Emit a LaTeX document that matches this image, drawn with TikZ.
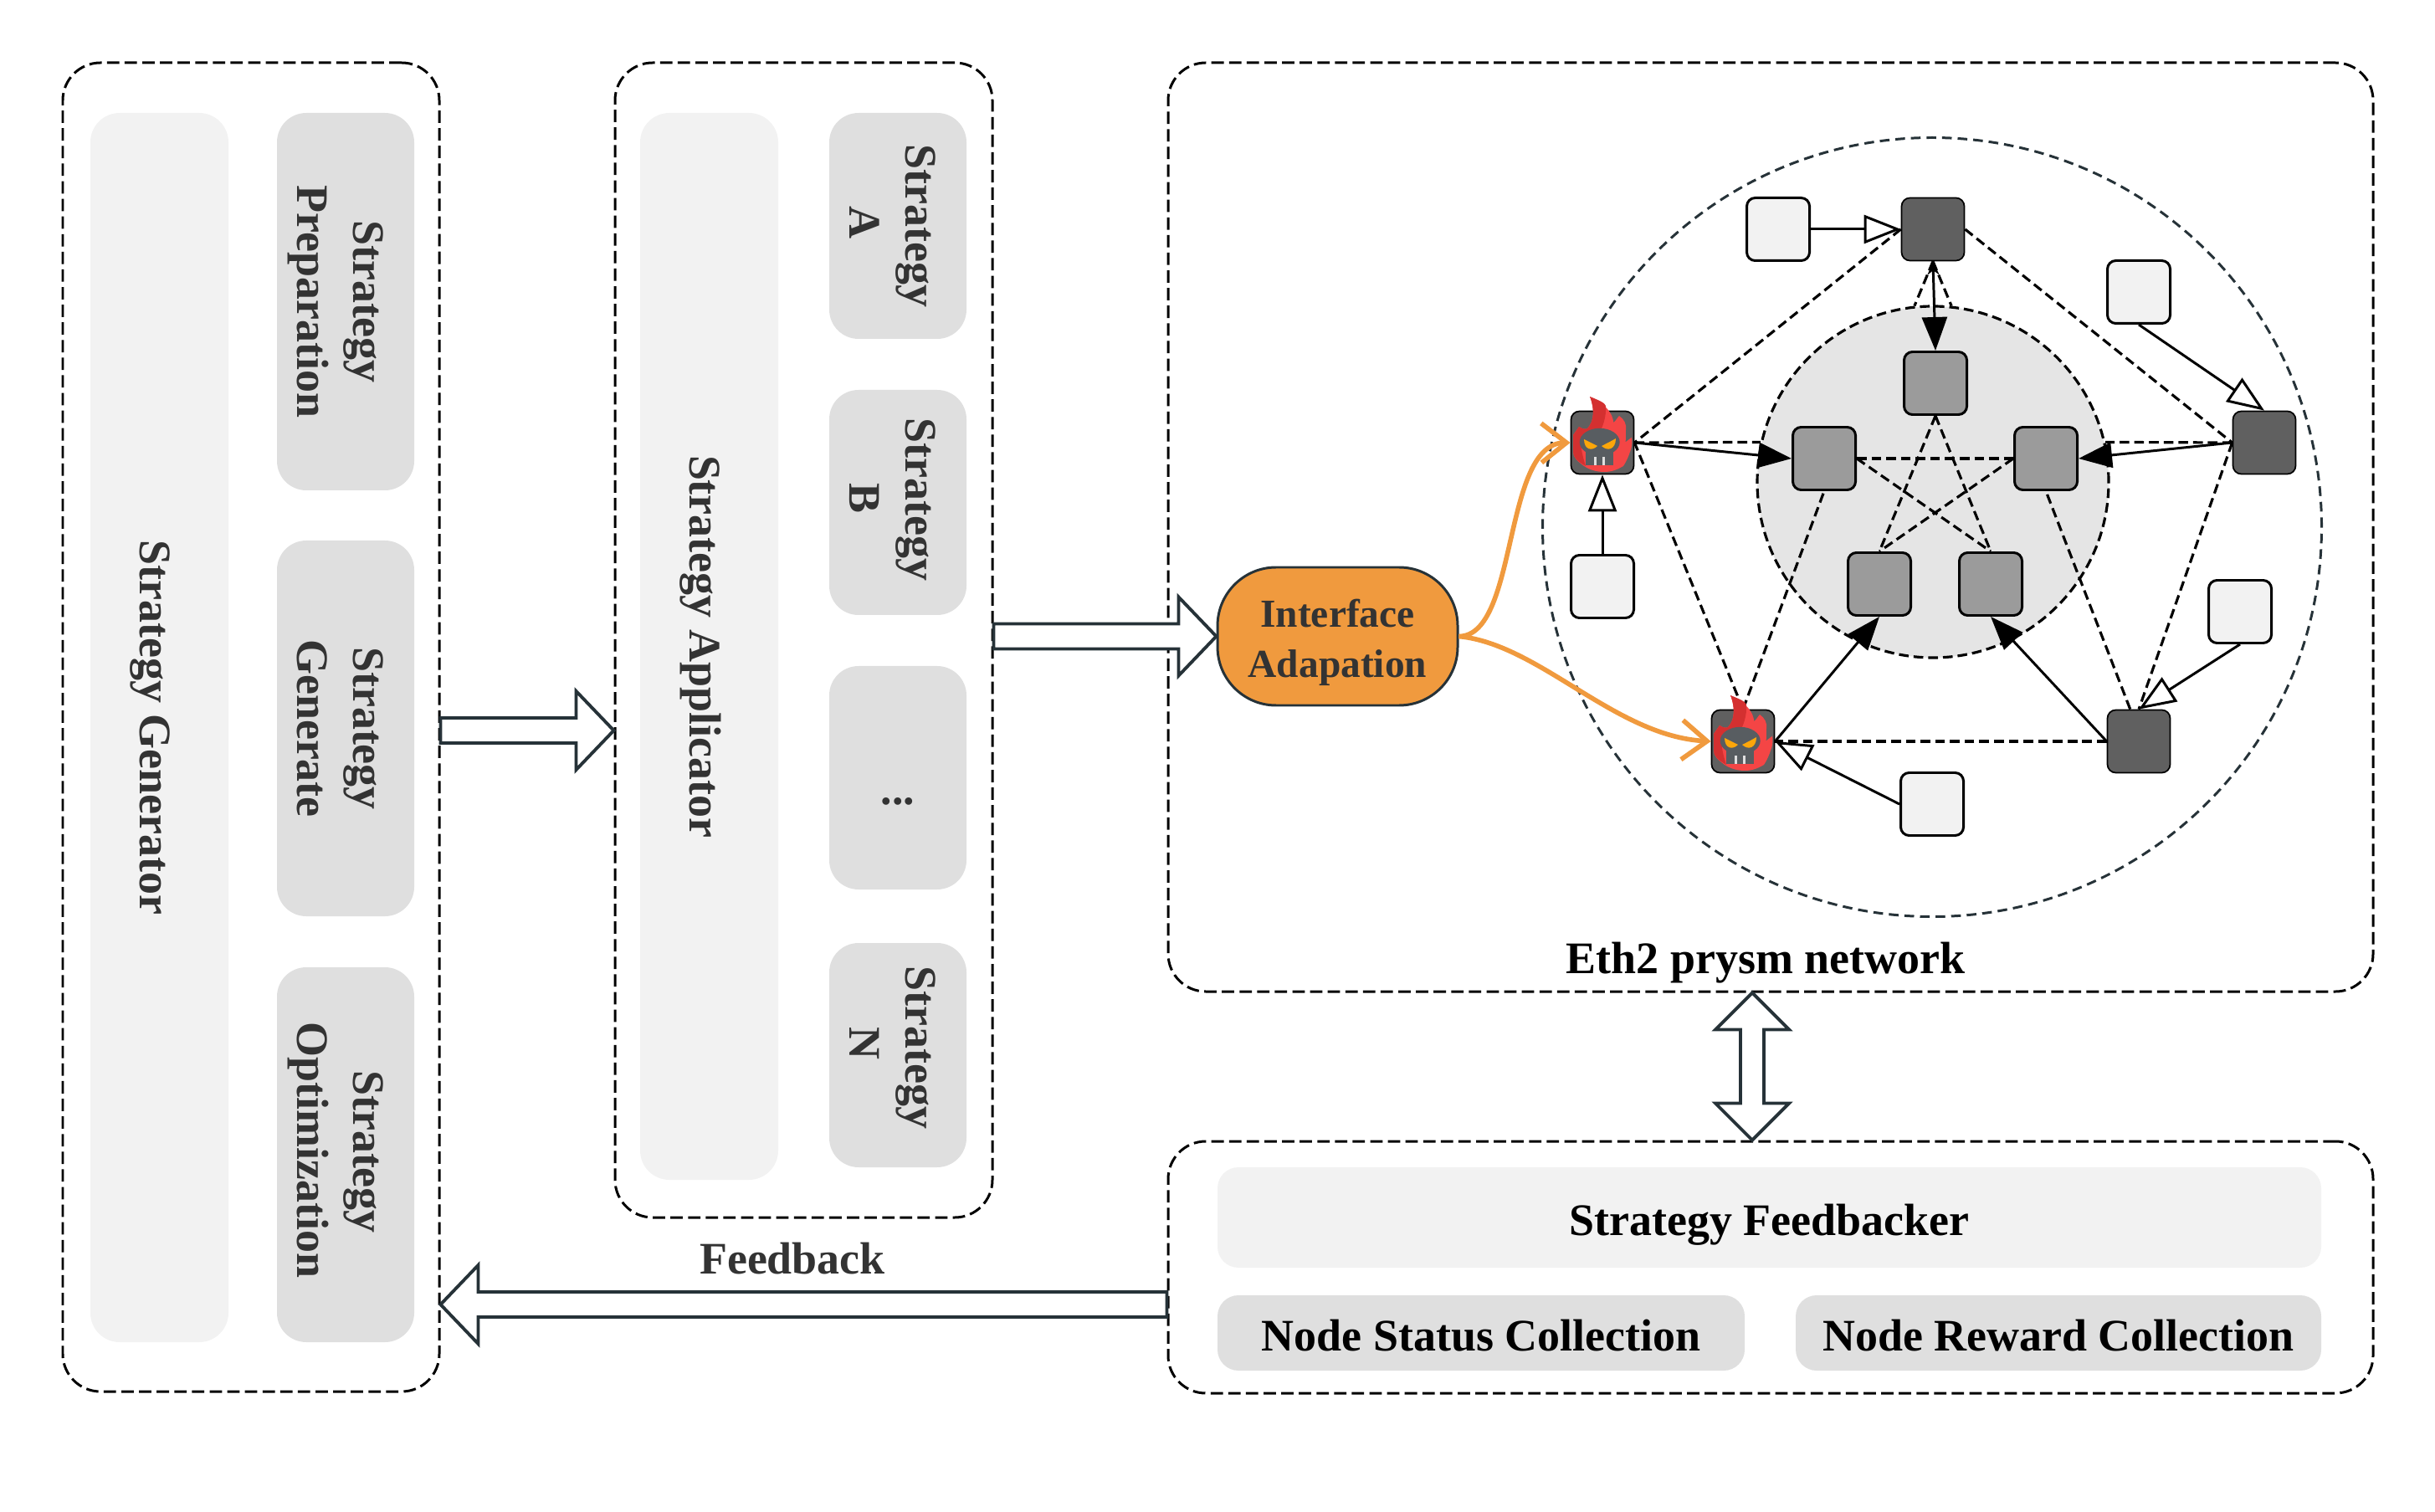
\documentclass[tikz,border=0pt]{standalone}
\usepackage{fontspec}
\setmainfont{Liberation Serif}
\usetikzlibrary{arrows.meta,calc,shapes.geometric}
\definecolor{linedark}{HTML}{263238}
\definecolor{barlight}{HTML}{F2F2F2}
\definecolor{boxgray}{HTML}{DFDFDF}
\definecolor{textdark}{HTML}{333333}
\definecolor{ifaceorange}{HTML}{F09A3E}
\definecolor{nodedark}{HTML}{606060}
\definecolor{nodemid}{HTML}{9B9B9B}
\definecolor{flamered}{HTML}{F44545}
\definecolor{flamedark}{HTML}{D43030}
\definecolor{skullgray}{HTML}{585D61}
\definecolor{eyeorange}{HTML}{FCA60A}
\tikzset{
  lbl/.style={font=\bfseries\fontsize{15.35}{19.2}\selectfont,align=center,text=textdark},
  textstrut/.style 2 args={inner ysep=0pt,execute at begin node={\rule{0pt}{#1}},execute at end node={\rule[-#2]{0pt}{#2}}},
  groupbox/.style={draw,line width=.85pt,dash pattern=on 4.2pt off 1.8pt,rounded corners=.45cm},
  sidebar/.style={lbl,textstrut={17.2pt}{4pt},fill=barlight,rounded corners=.35cm,rotate=-90,minimum height=1.65cm},
  stepbox/.style={lbl,textstrut={36.8pt}{4pt},fill=boxgray,rounded corners=.35cm,rotate=-90,minimum height=1.64cm},
  wideblock/.style={lbl,textstrut={16.2pt}{4pt},text=black,rounded corners=.25cm},
  peer/.style={draw,rounded corners=.1cm,minimum size=.75cm,inner sep=0pt},
  outerpeer/.style={peer,fill=nodedark,line width=.5pt},
  innerpeer/.style={peer,fill=nodemid,line width=.85pt},
  clientpeer/.style={peer,fill=barlight,line width=.85pt},
  link/.style={line width=.9pt,dash pattern=on 3.3pt off 1.7pt},
  solidarrow/.style={line width=.85pt,-{Triangle[length=.4cm,width=.3cm]}},
  hollowarrow/.style={line width=.85pt,-{Triangle[open,fill=white,length=.44cm,width=.34cm]}},
  orangearrow/.style={ifaceorange,line width=1.6pt,-{Straight Barb[length=.3cm,width=.47cm]}},
  blockstroke/.style={draw=linedark,line width=1.1pt,fill=white,line join=miter},
  blockarrow/.style={blockstroke,to path={
    ($(\tikztostart)!.15cm!90:(\tikztotarget)$)
    -- ($(\tikztotarget)!.45cm!(\tikztostart)!.15cm!90:(\tikztotarget)$)
    -- ($(\tikztotarget)!.45cm!(\tikztostart)!.47cm!90:(\tikztotarget)$)
    -- (\tikztotarget)
    -- ($(\tikztotarget)!.45cm!(\tikztostart)!.47cm!-90:(\tikztotarget)$)
    -- ($(\tikztotarget)!.45cm!(\tikztostart)!.15cm!-90:(\tikztotarget)$)
    -- ($(\tikztostart)!.15cm!-90:(\tikztotarget)$) -- cycle}},
  twowayarrow/.style={blockstroke,to path={
    -- ($(\tikztostart)!.44cm!(\tikztotarget)!.44cm!90:(\tikztotarget)$)
    -- ($(\tikztostart)!.44cm!(\tikztotarget)!.14cm!90:(\tikztotarget)$)
    -- ($(\tikztotarget)!.44cm!(\tikztostart)!.14cm!-90:(\tikztostart)$)
    -- ($(\tikztotarget)!.44cm!(\tikztostart)!.44cm!-90:(\tikztostart)$)
    -- (\tikztotarget)
    -- ($(\tikztotarget)!.44cm!(\tikztostart)!.44cm!90:(\tikztostart)$)
    -- ($(\tikztotarget)!.44cm!(\tikztostart)!.14cm!90:(\tikztostart)$)
    -- ($(\tikztostart)!.44cm!(\tikztotarget)!.14cm!-90:(\tikztotarget)$)
    -- ($(\tikztostart)!.44cm!(\tikztotarget)!.44cm!-90:(\tikztotarget)$)
    -- cycle}},
  fireskull/.pic={
    \begin{scope}[x=.01cm,y=.01cm]
    \fill[flamered] (-15,55) .. controls (5,45) and (12,35) .. (13.3,24) .. controls (16,26) and (18,30) .. (20,32)
      .. controls (26,28) and (29,22) .. (28,15.7) -- (27.7,.7) -- (35,6.3) .. controls (36,-2) and (35,-6) .. (33,-11)
      .. controls (30,-20) and (27,-25) .. (25,-28) .. controls (15,-34) and (8,-35) .. (2,-35)
      .. controls (-8,-35) and (-16,-32) .. (-22,-28) .. controls (-30,-22) and (-35,-18) .. (-35,-11)
      -- (-35,9) -- (-28,19) .. controls (-24,16) and (-20,16) .. (-18,17) .. controls (-10,25) and (-9,40) .. cycle;
    \fill[flamedark] (-15,55) .. controls (-2,50) and (3,47) .. (4,44) .. controls (5,32) and (0,15) .. (-5,12)
      .. controls (-20,8) and (-27,2) .. (-25,-8) .. controls (-24,-15) and (-22,-22) .. (-20,-28)
      .. controls (-30,-22) and (-35,-18) .. (-35,-11)
      -- (-35,9) -- (-28,19) .. controls (-24,16) and (-20,16) .. (-18,17) .. controls (-10,25) and (-9,40) .. cycle;
    \fill[skullgray] (-3.3,.7) ellipse (24 and 16.5);
    \fill[skullgray] (-20,-8) rectangle (13,-27);
    \fill[eyeorange] (-22,4) .. controls (-22,-8) and (-13,-11) .. (-6,-4) .. controls (-12,-1) and (-18,2) .. cycle;
    \fill[eyeorange] (16,5) .. controls (16,-8) and (6,-11) .. (-1,-4) .. controls (5,-1) and (11,2) .. cycle;
    \fill[boxgray] (-10,-17) rectangle (-7,-27);
    \fill[boxgray] (0,-17) rectangle (3,-27);
    \end{scope}
  }
}
\begin{document}
\begin{tikzpicture}
\useasboundingbox (0,0) rectangle (29.1,18.06);
% left columns
\node[groupbox,minimum width=4.5cm,minimum height=15.88cm] (genbox) at (3,9.37) {};
\node[sidebar,minimum width=14.69cm] (genbar) at (1.905,9.365) {Strategy Generator};
\node[stepbox,minimum width=4.51cm] (prep) at (4.13,14.455) {Strategy\\Preparation};
\node[stepbox,minimum width=4.49cm] (generate) at (4.13,9.355) {Strategy\\Generate};
\node[stepbox,minimum width=4.48cm] (optim) at (4.13,4.26) {Strategy\hspace*{2pt}\\Optimization\hspace*{3pt}};
\node[groupbox,minimum width=4.51cm,minimum height=13.8cm] (appbox) at (9.605,10.41) {};
\node[sidebar,minimum width=12.75cm] (appbar) at (8.475,10.335) {Strategy Applicator};
\node[stepbox,minimum width=2.7cm] (stratA) at (10.73,15.36) {Strategy\\A\hspace*{2pt}};
\node[stepbox,minimum width=2.69cm] (stratB) at (10.73,12.055) {Strategy\hspace*{2pt}\\B\hspace*{3pt}};
\node[lbl,fill=boxgray,rounded corners=.35cm,minimum width=1.64cm,minimum height=2.67cm] (stratDots) at (10.73,8.765) {\raisebox{-9pt}[0pt][0pt]{...}};
\node[stepbox,minimum width=2.68cm] (stratN) at (10.73,5.45) {Strategy\hspace*{5pt}\\N\hspace*{8pt}};
% network
\node[groupbox,minimum width=14.4cm,minimum height=11.1cm] (netbox) at (21.16,11.76) {};
\node[lbl,text=black] (netlabel) at (21.1,6.55) {Eth2 prysm network};
\node[circle,draw=linedark,line width=.85pt,dash pattern=on 3.3pt off 2pt,minimum size=9.31cm] (outring) at (23.09,11.76) {};
\node[circle,draw,fill=black!10,line width=.9pt,dash pattern=on 3.3pt off 1.7pt,minimum size=4.2cm] (inring) at (23.1,12.3) {};
\node[lbl,font=\bfseries\fontsize{13.5}{17}\selectfont,textstrut={30.8pt}{3.2pt},draw=linedark,line width=.85pt,fill=ifaceorange,rounded corners=.7cm,minimum width=2.87cm,minimum height=1.65cm] (iface) at (15.985,10.455) {Interface\\Adapation};
\node[outerpeer] (otop) at (23.1,15.32) {};
\node[outerpeer] (oright) at (27.06,12.77) {};
\node[outerpeer] (obr) at (25.56,9.2) {};
\node[outerpeer] (obl) at (20.83,9.2) {};
\node[outerpeer] (oleft) at (19.15,12.77) {};
\node[innerpeer] (itop) at (23.13,13.48) {};
\node[innerpeer] (ileft) at (21.8,12.58) {};
\node[innerpeer] (iright) at (24.45,12.58) {};
\node[innerpeer] (ibl) at (22.46,11.08) {};
\node[innerpeer] (ibr) at (23.79,11.08) {};
\node[clientpeer] (ctop) at (21.25,15.32) {};
\node[clientpeer] (cright) at (25.56,14.57) {};
\node[clientpeer] (cleft) at (19.15,11.05) {};
\node[clientpeer] (cbr) at (26.77,10.75) {};
\node[clientpeer] (cbot) at (23.09,8.45) {};
% outer pentagon
\draw[link] (otop.west) -- (oleft.east);
\draw[link] (otop.east) -- (oright.west);
\draw[link] (oright.west) -- (obr.north);
\draw[link] (obr.west) -- (obl.east);
\draw[link] (obl.north) -- (oleft.east);
\draw[link] (oleft.east) -- (inring.167);
\draw[link] (oright.west) -- (inring.13);
\draw[link] (otop.south) -- (inring.96);
\draw[link] (otop.south) -- (inring.84);
\draw[link] (obl.north) -- (ileft.south);
\draw[link] (obr.105) -- (iright.south);
% inner star
\draw[link] (itop.south) -- (ibl.north);
\draw[link] (itop.south) -- (ibr.north);
\draw[link] (ileft.east) -- (iright.west);
\draw[link] (ileft.east) -- (ibr.north);
\draw[link] (iright.west) -- (ibl.north);
% peer arrows
\draw[solidarrow,{Stealth[length=.16cm,width=.14cm]}-{Triangle[length=.4cm,width=.3cm]}] (otop.south) -- (itop.north);
\draw[solidarrow] (oleft.east) -- (ileft.west);
\draw[solidarrow] (oright.west) -- (iright.east);
\draw[solidarrow] (obl.east) -- (ibl.south);
\draw[solidarrow] (obr.west) -- (ibr.south);
\draw[hollowarrow] (ctop.east) -- (otop.west);
\draw[hollowarrow] (cright.south) -- (oright.north);
\draw[hollowarrow] (cleft.north) -- (oleft.south);
\draw[hollowarrow] (cbr.south) -- (obr.north);
\draw[hollowarrow] (cbot.west) -- (obl.east);
\draw[orangearrow] (iface.east) .. controls (18.15,10.46) and (17.95,12.76) .. (oleft.west);
\draw[orangearrow] (iface.east) .. controls (18.4,10.36) and (19.3,9.26) .. (obl.west);
\pic at (oleft) {fireskull};
\pic at (obl) {fireskull};
% feedback part
\node[groupbox,minimum width=14.4cm,minimum height=3.01cm] (fbbox) at (21.16,2.915) {};
\node[wideblock,fill=barlight,minimum width=13.19cm,minimum height=1.2cm] (fbbar) at (21.145,3.51) {Strategy Feedbacker};
\node[wideblock,fill=boxgray,minimum width=6.3cm,minimum height=.9cm] (status) at (17.7,2.13) {Node Status Collection};
\node[wideblock,fill=boxgray,minimum width=6.28cm,minimum height=.9cm] (reward) at (24.6,2.13) {Node Reward Collection};
% block arrows
\draw[blockarrow] (genbox.east |- 0,9.33) to (appbox.west |- 0,9.33);
\draw[blockarrow] (appbox.east |- iface.west) to (iface.west);
\draw[blockarrow] (fbbox.west |- 0,2.47) to (genbox.east |- 0,2.47);
\node[lbl,anchor=base] (fblabel) at (9.47,2.84) {Feedback};
\draw[twowayarrow] (netbox.south -| 20.94,0) to (fbbox.north -| 20.94,0);
\end{tikzpicture}
\end{document}
